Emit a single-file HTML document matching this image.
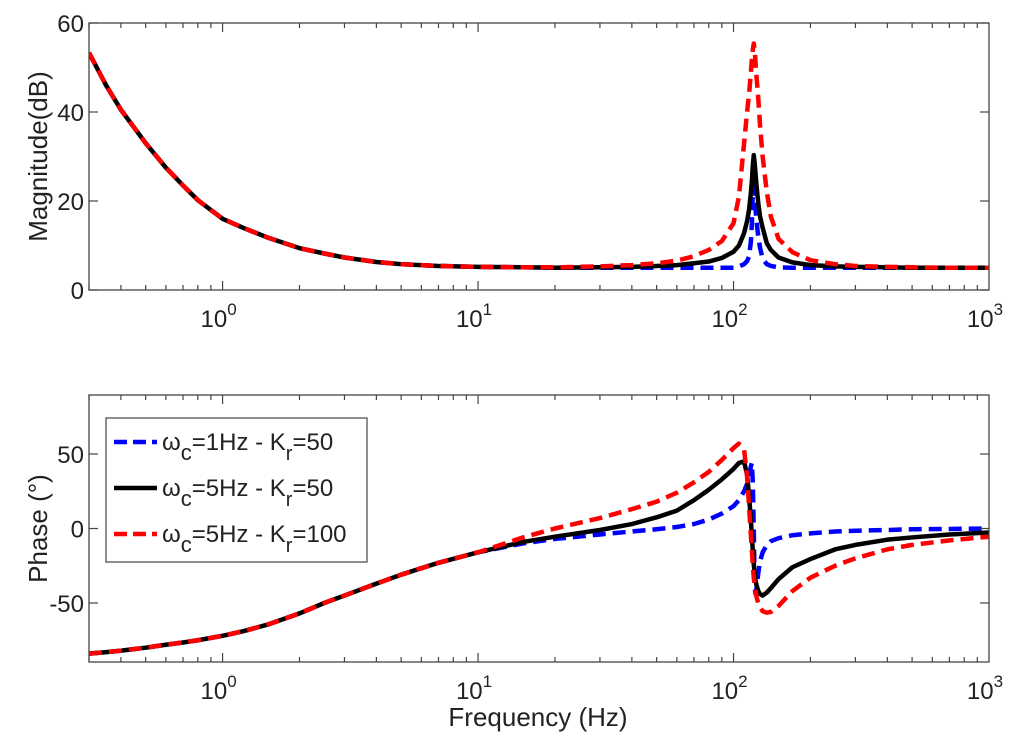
<!DOCTYPE html>
<html><head><meta charset="utf-8"><style>
body{margin:0;background:#fff;}
svg{display:block;font-family:"Liberation Sans",Arial,sans-serif;}
</style></head><body>
<svg id="chart" width="1024" height="744" viewBox="0 0 1024 744"></svg>
<script>
const freqs=[0.3,0.35,0.4,0.5,0.6,0.7,0.8,1,1.2,1.5,2,2.5,3,4,5,7,10,15,20,30,40,50,60,70,80,90,100,105,110,113,115,117,118,119,120,121,122,123,125,127,130,135,140,150,170,200,250,300,400,500,700,1000];
const magBlue=[53.3,46,40.5,33,27.5,23.5,20.2,16,14,11.8,9.4,8.2,7.3,6.3,5.8,5.4,5.2,5.1,5,5,5,5,5,5,5,5,5,5.3,5.8,6.5,7.5,11,15,22,30,23,18,15.5,12,9.5,7,5.8,5.4,5.1,5,5,5,5,5,5,5,5];
const magBlack=[53.3,46,40.5,33,27.5,23.5,20.2,16,14,11.8,9.4,8.2,7.3,6.3,5.8,5.4,5.2,5.1,5,5.1,5.2,5.4,5.6,6,6.4,7.2,8.6,10,12.8,15.5,18,22,24.5,28,30.3,28.5,26,23.5,19.5,16.5,14,10.5,9,7.3,6.2,5.6,5.3,5.2,5.1,5,5,5];
const magRed=[53.3,46,40.5,33,27.5,23.5,20.2,16,14,11.8,9.4,8.2,7.3,6.3,5.8,5.4,5.2,5.1,5.1,5.3,5.6,6,6.6,7.6,9,11,15,21,33,40,44,49,52,54,55.4,54,51,48,43,37,30,22,16.5,11.5,8.5,6.7,5.8,5.4,5.2,5.1,5,5];
const phBlue=[-84,-83,-82,-80,-78,-76.5,-75,-72,-69,-64.5,-57,-50,-45,-37,-31,-23,-16,-10,-7,-4,-2,-0.5,1,3,6,10,15,19,25,30,35,42,44,30,0,-40,-44,-40,-30,-22,-16,-11,-8.5,-6.5,-4.5,-3.3,-2,-1.5,-1,-0.5,-0.3,0];
const phBlack=[-84,-83,-82,-80,-78,-76.5,-75,-72,-69,-64.5,-57,-50,-45,-37,-31,-23,-16,-9,-5.5,-1,3,7.5,12,19,26,33,40,44,45,36,22,5,-5,-15,-24,-30,-35,-38,-42,-44,-45,-43,-40,-34,-26,-20.5,-14,-11,-7.5,-6,-4,-2.7];
const phRed=[-84,-83,-82,-80,-78,-76.5,-75,-72,-69,-64.5,-57,-50,-45,-37,-31,-23,-16,-6,0,7,13,18,24,31,38,46,54,57,53,35,15,-5,-15,-25,-33,-38,-42,-46,-50,-53,-55.5,-56.5,-56,-52,-42,-33,-25,-20,-14,-11,-8,-5.5];
const magTicks=[0,20,40,60];
const phTicks=[-50,0,50];
const decadeExps=[0,1,2,3];

const NS="http://www.w3.org/2000/svg";
const svg=document.getElementById('chart');
function mk(tag,attrs,parent){const e=document.createElementNS(NS,tag);for(const k in attrs)e.setAttribute(k,attrs[k]);(parent||svg).appendChild(e);return e;}
const X0=89,X1=989,LMIN=Math.log10(0.3),LMAX=3;
function xs(f){return X0+(Math.log10(f)-LMIN)/(LMAX-LMIN)*(X1-X0);}

function panel(name,top,bot,ymin,ymax,ticks,series,ylabel){
  const g=mk('g',{});
  
  
  const ys=v=>bot-(v-ymin)/(ymax-ymin)*(bot-top);
  const clipId=name+'-clip';
  const cp=mk('clipPath',{id:clipId},g);mk('rect',{x:X0,y:top,width:X1-X0,height:bot-top},cp);
  const lg=mk('g',{'clip-path':'url(#'+clipId+')'},g);
  series.forEach(s=>{
    const d=freqs.map((f,i)=>(i?'L':'M')+xs(f).toFixed(2)+','+ys(s.v[i]).toFixed(2)).join('');
    const p=mk('path',{d:d,fill:'none',stroke:s.c,'stroke-width':4.5,'stroke-linejoin':'round','stroke-dasharray':s.dash||'none'},lg);
    
    
  });
  const box=mk('rect',{x:X0,y:top,width:X1-X0,height:bot-top,fill:'none',stroke:'#444','stroke-width':1.3},g);
  
  
  for(let e=-1;e<3;e++){for(let m=1;m<10;m++){const f=m*Math.pow(10,e);if(f<0.3-1e-9||f>1000)continue;const x=xs(f);const L=m===1?9:5;
    mk('line',{x1:x,x2:x,y1:bot,y2:bot-L,stroke:'#444','stroke-width':1.2},g);
    mk('line',{x1:x,x2:x,y1:top,y2:top+L,stroke:'#444','stroke-width':1.2},g);}}
  decadeExps.forEach(e=>{const x=xs(Math.pow(10,e));
    const t=mk('text',{x:x-4,y:bot+37,'font-size':24,'text-anchor':'middle',fill:'#222'},g);
    
    
    t.textContent='10';
    const s=mk('tspan',{dx:0,dy:-12,'font-size':17},t);s.textContent=String(e);
  });
  ticks.forEach(v=>{const y=ys(v);
    mk('line',{x1:X0,x2:X0+9,y1:y,y2:y,stroke:'#444','stroke-width':1.2},g);
    mk('line',{x1:X1,x2:X1-9,y1:y,y2:y,stroke:'#444','stroke-width':1.2},g);
    const t=mk('text',{x:X0-5,y:y+9,'font-size':24,'text-anchor':'end',fill:'#222'},g);
    
    
    t.textContent=String(v);
  });
  const yl=mk('text',{x:0,y:0,'font-size':26,'text-anchor':'middle',fill:'#222',transform:'translate(47,'+((top+bot)/2)+') rotate(-90)'},g);
  
  
  yl.textContent=ylabel;
}
panel('magnitude-panel',23,290,0,60,magTicks,[
  {v:magBlue,c:'#0000ff',dash:'13,7',n:'magnitude-blue-line'},
  {v:magBlack,c:'#000',n:'magnitude-black-line'},
  {v:magRed,c:'#ff0000',dash:'13,7',n:'magnitude-red-line'}],'Magnitude(dB)');
panel('phase-panel',395,662,-89.6,89.6,phTicks,[
  {v:phBlue,c:'#0000ff',dash:'13,7',n:'phase-blue-line'},
  {v:phBlack,c:'#000',n:'phase-black-line'},
  {v:phRed,c:'#ff0000',dash:'13,7',n:'phase-red-line'}],'Phase (°)');

const xl=mk('text',{x:538,y:726,'font-size':26,'text-anchor':'middle',fill:'#222'});


xl.textContent='Frequency (Hz)';

const lgd=mk('g',{});


mk('rect',{x:106,y:418,width:261,height:144,fill:'#fff',stroke:'#444','stroke-width':1.2},lgd);
const entries=[{c:'#0000ff',dash:'13,6',t1:'=1Hz - K',t2:'=50'},{c:'#000',dash:'none',t1:'=5Hz - K',t2:'=50'},{c:'#ff0000',dash:'13,6',t1:'=5Hz - K',t2:'=100'}];
entries.forEach((e,i)=>{const y=442+i*46;
  const gE=mk('g',{},lgd);
  
  
  mk('line',{x1:114,x2:157,y1:y,y2:y,stroke:e.c,'stroke-width':4.5,'stroke-dasharray':e.dash},gE);
  const t=mk('text',{x:162,y:y+8,'font-size':24,fill:'#222'},gE);
  const a=mk('tspan',{},t);a.textContent='ω';
  const b=mk('tspan',{dy:10,'font-size':22},t);b.textContent='c';
  const c=mk('tspan',{dy:-10},t);c.textContent=e.t1;
  const d=mk('tspan',{dy:10,'font-size':20},t);d.textContent='r';
  const f=mk('tspan',{dy:-10},t);f.textContent=e.t2;
});
</script>
</body></html>
